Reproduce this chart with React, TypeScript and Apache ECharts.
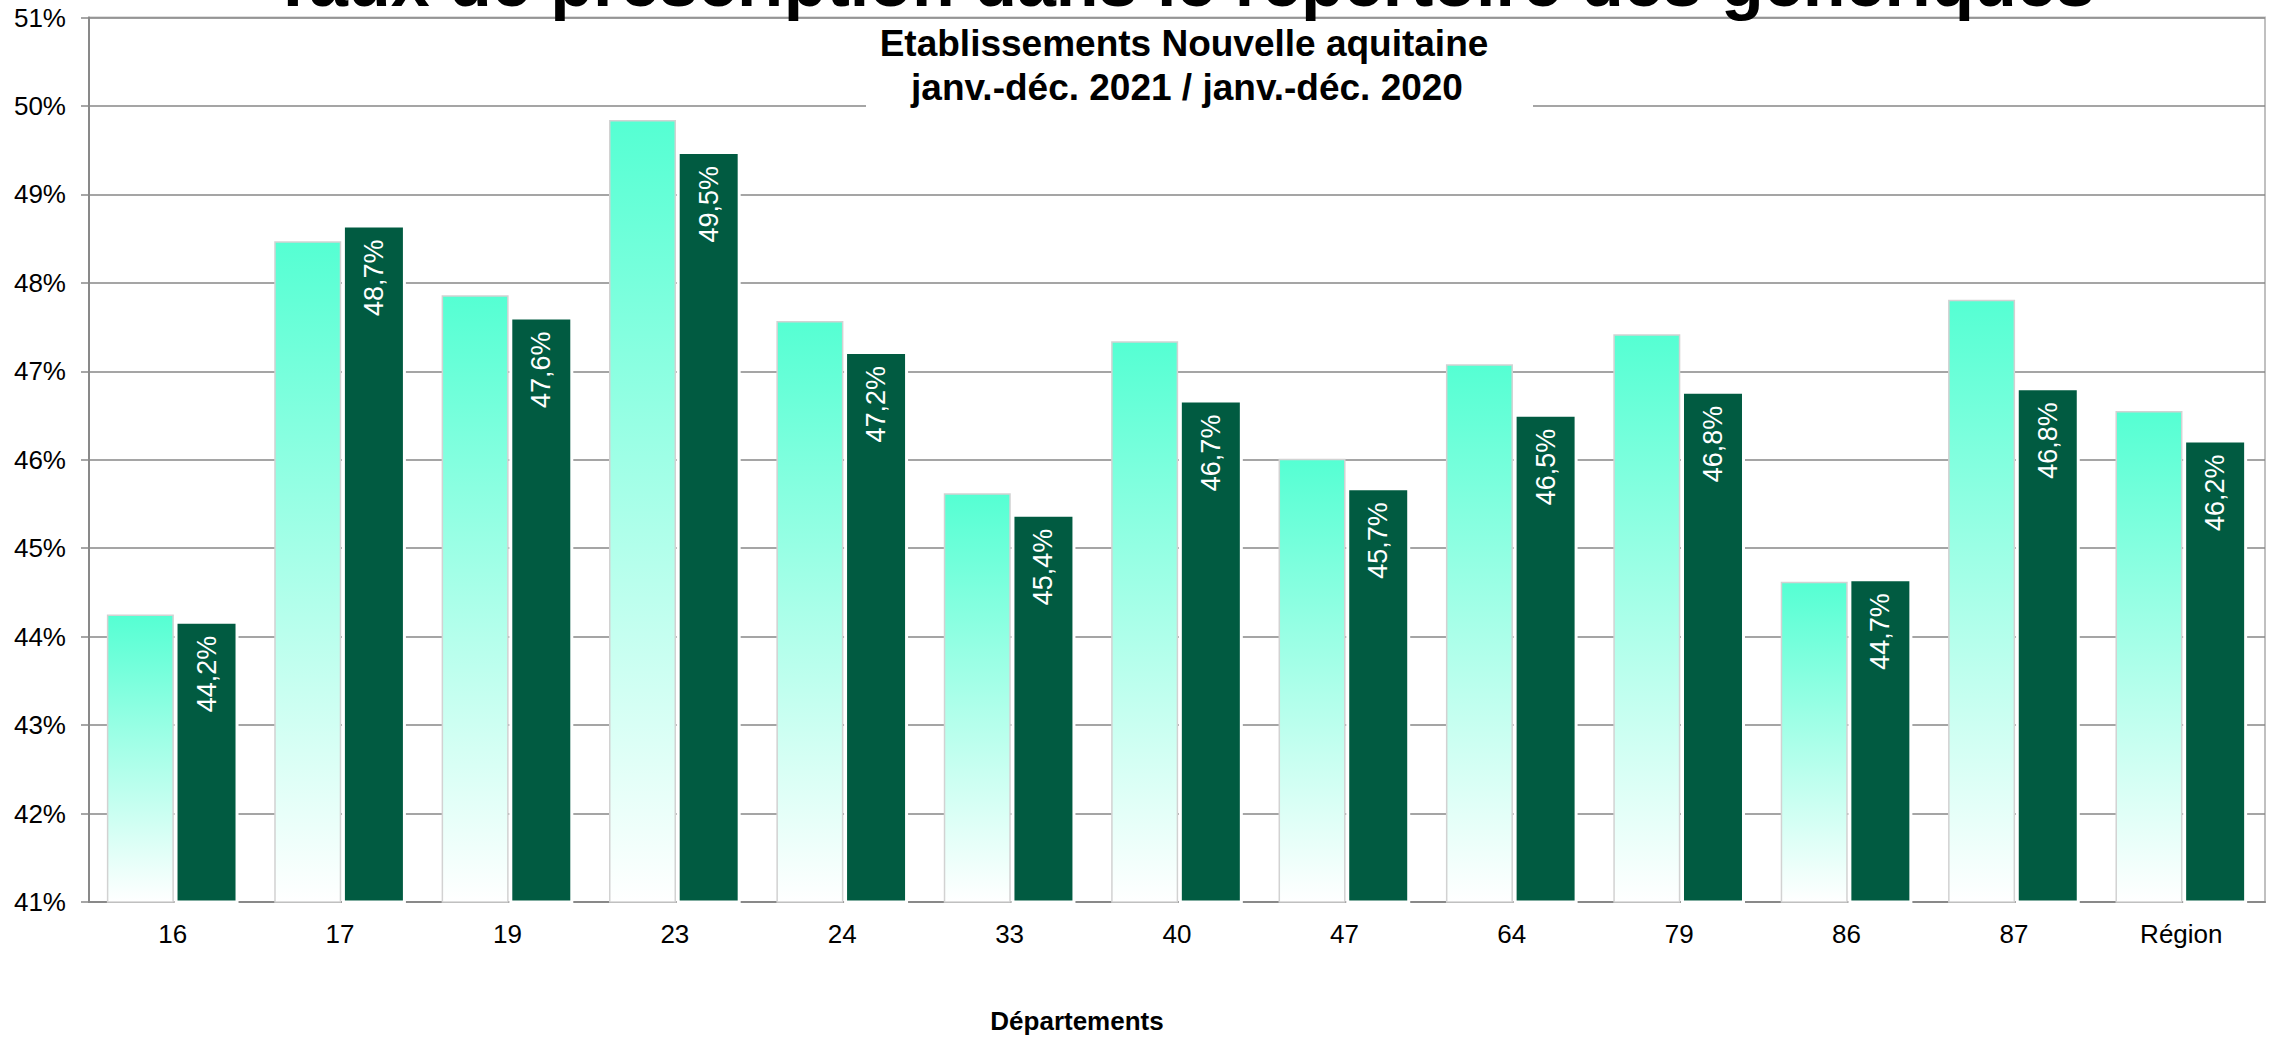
import React, { useEffect, useRef } from "react";
import * as echarts from "echarts";

const FONT = "'Liberation Sans', Arial, sans-serif";

const categories = ["16", "17", "19", "23", "24", "33", "40", "47", "64", "79", "86", "87", "Région"];
const seriesLightName = "janv.-déc. 2020";
const seriesDarkName = "janv.-déc. 2021";
const valuesLight = [44.25, 48.47, 47.86, 49.84, 47.57, 45.62, 47.34, 46.01, 47.08, 47.42, 44.62, 47.81, 46.55];
const valuesDark = [44.18, 48.66, 47.62, 49.49, 47.23, 45.39, 46.68, 45.69, 46.52, 46.78, 44.66, 46.82, 46.23];
const yMin = 41;
const yMax = 51;
const yInterval = 1;

const titleText = "Taux de prescription dans le répertoire des génériques";
const subtitleLine1 = "Etablissements Nouvelle aquitaine";
const subtitleLine2 = "janv.-déc. 2021 / janv.-déc. 2020";
const xAxisTitle = "Départements";

const fmt = (v: number) => (Math.round(v * 10) / 10).toFixed(1).replace(".", ",") + "%";

export default function App() {
  const ref = useRef<HTMLDivElement>(null);
  useEffect(() => {
    if (!ref.current) return;
    const chart = echarts.init(ref.current, undefined, { renderer: "svg" });
    chart.setOption({
      animation: false,
      backgroundColor: "#ffffff",
      grid: {
        left: 89,
        right: 13,
        top: 17.5,
        bottom: 136,
        containLabel: false,
        show: true,
        borderColor: "#c0c0c0",
        borderWidth: 2,
        backgroundColor: "transparent",
      },
      xAxis: {
        type: "category",
        data: categories,
        axisLine: { show: true, lineStyle: { color: "#898989", width: 2 } },
        axisTick: { show: false },
        axisLabel: { color: "#000", fontSize: 26, fontFamily: FONT, margin: 19 },
        splitLine: { show: false },
      },
      yAxis: {
        type: "value",
        min: yMin,
        max: yMax,
        interval: yInterval,
        axisLine: { show: true, lineStyle: { color: "#898989", width: 2 } },
        axisTick: { show: true, length: 8, lineStyle: { color: "#898989", width: 1.5 } },
        axisLabel: {
          color: "#000",
          fontSize: 26,
          fontFamily: FONT,
          margin: 23,
          formatter: (v: number) => `${v}%`,
        },
        splitLine: { show: true, lineStyle: { color: "#878787", width: 1.5 } },
      },
      series: [
        {
          name: seriesLightName,
          type: "bar",
          data: valuesLight,
          barWidth: 67,
          barGap: "1%",
          itemStyle: {
            color: new echarts.graphic.LinearGradient(0, 0, 0, 1, [
              { offset: 0, color: "#55FFD3" },
              { offset: 1, color: "#FFFFFF" },
            ]),
            borderColor: "#d2d2d2",
            borderWidth: 1.5,
          },
        },
        {
          name: seriesDarkName,
          type: "bar",
          data: valuesDark,
          barWidth: 64,
          itemStyle: {
            color: "#015B41",
            borderColor: "#ffffff",
            borderWidth: 3,
          },
          label: {
            show: true,
            position: "insideTop",
            distance: 15,
            rotate: 90,
            align: "right",
            verticalAlign: "middle",
            color: "#ffffff",
            fontSize: 27,
            fontFamily: FONT,
            formatter: (p: any) => fmt(p.value),
          },
        },
      ],
      graphic: [
        {
          type: "rect",
          z: 100,
          shape: { x: 866, y: 24, width: 667, height: 94 },
          style: { fill: "#ffffff" },
        },
        {
          type: "text",
          z: 101,
          x: 1183,
          y: -18,
          style: {
            text: titleText,
            font: `bold 70px ${FONT}`,
            fill: "#000",
            textAlign: "center",
            textVerticalAlign: "middle",
          },
        },
        {
          type: "text",
          z: 101,
          x: 1184,
          y: 43.5,
          style: {
            text: subtitleLine1,
            font: `bold 37px ${FONT}`,
            fill: "#000",
            textAlign: "center",
            textVerticalAlign: "middle",
          },
        },
        {
          type: "text",
          z: 101,
          x: 1187,
          y: 87.5,
          style: {
            text: subtitleLine2,
            font: `bold 37px ${FONT}`,
            fill: "#000",
            textAlign: "center",
            textVerticalAlign: "middle",
          },
        },
        {
          type: "text",
          z: 101,
          x: 1077,
          y: 1021,
          style: {
            text: xAxisTitle,
            font: `bold 26px ${FONT}`,
            fill: "#000",
            textAlign: "center",
            textVerticalAlign: "middle",
          },
        },
      ],
    });
    return () => chart.dispose();
  }, []);
  return (
    <div
      ref={ref}
      style={{ position: "fixed", left: 0, top: 0, width: "2278px", height: "1038px" }}
    />
  );
}
